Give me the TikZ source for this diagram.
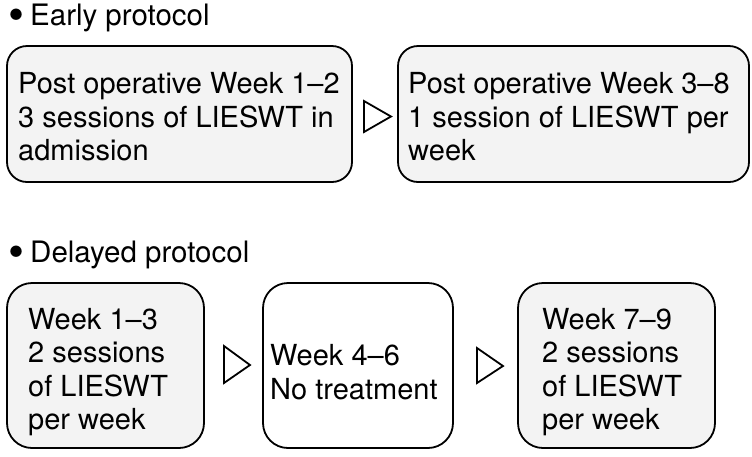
\documentclass[tikz,border=0pt]{standalone}
\usepackage{fontspec}
\setmainfont{TeX Gyre Heros}
\definecolor{boxfill}{RGB}{243,243,243}
\newcommand{\bigbul}{\raisebox{-5.5pt}{\scalebox{1.55}{•}}\hspace{6pt}}
\tikzset{
  box/.style={draw=black, line width=1.8pt, rounded corners=#1, inner sep=0pt},
  box/.default=20pt,
  txt/.style={align=left, inner sep=0pt, font=\fontsize{29}{33.5}\selectfont},
  head/.style={inner sep=0pt, anchor=base west, text height=21pt, text depth=6pt, font=\fontsize{29.5}{33.5}\selectfont},
  tri/.style={draw=black, line width=1.8pt, line join=miter, fill=white}
}
\begin{document}
\begin{tikzpicture}[x=1pt,y=-1pt]
\useasboundingbox[fill=white] (0,0) rectangle (752,456);
% headings
\node[head] (h1) at (8,25) {\bigbul Early protocol};
\node[head] (h2) at (8,262) {\bigbul Delayed protocol};
% early protocol boxes
\draw[box, fill=boxfill] (7,46) rectangle (352,182);
\node[minimum width=345pt, minimum height=136pt, inner sep=0pt] (b1) at (179.5,114) {};
\node[txt, anchor=west] (t1) at (18,117) {Post operative Week 1–2\\3 sessions of LIESWT in\\admission};
\draw[box, fill=boxfill] (398,46) rectangle (749,182);
\node[minimum width=351pt, minimum height=136pt, inner sep=0pt] (b2) at (573.5,114) {};
\node[txt, anchor=west] (t2) at (408,117) {Post operative Week 3–8\\1 session of LIESWT per\\week};
% delayed protocol boxes
\draw[box=25pt, fill=boxfill] (7,283) rectangle (204,448);
\node[minimum width=197pt, minimum height=165pt, inner sep=0pt] (b3) at (105.5,365.5) {};
\node[txt, anchor=west] (t3) at (28,372) {Week 1–3\\2 sessions\\of LIESWT\\per week};
\draw[box=25pt, fill=white] (263,283) rectangle (453,448);
\node[minimum width=190pt, minimum height=165pt, inner sep=0pt] (b4) at (358,365.5) {};
\node[txt, anchor=west] (t4) at (270,372) {Week 4–6\\No treatment};
\draw[box=25pt, fill=boxfill] (518,283) rectangle (715,448);
\node[minimum width=197pt, minimum height=165pt, inner sep=0pt] (b5) at (616.5,365.5) {};
\node[txt, anchor=west] (t5) at (542,372) {Week 7–9\\2 sessions\\of LIESWT\\per week};
% arrows (triangles)
\draw[tri] (364,101) -- (391,116.5) -- (364,132) -- cycle;
\draw[tri] (224,346) -- (250,365) -- (224,383) -- cycle;
\draw[tri] (477,348) -- (503,366) -- (477,383) -- cycle;
\end{tikzpicture}
\end{document}
